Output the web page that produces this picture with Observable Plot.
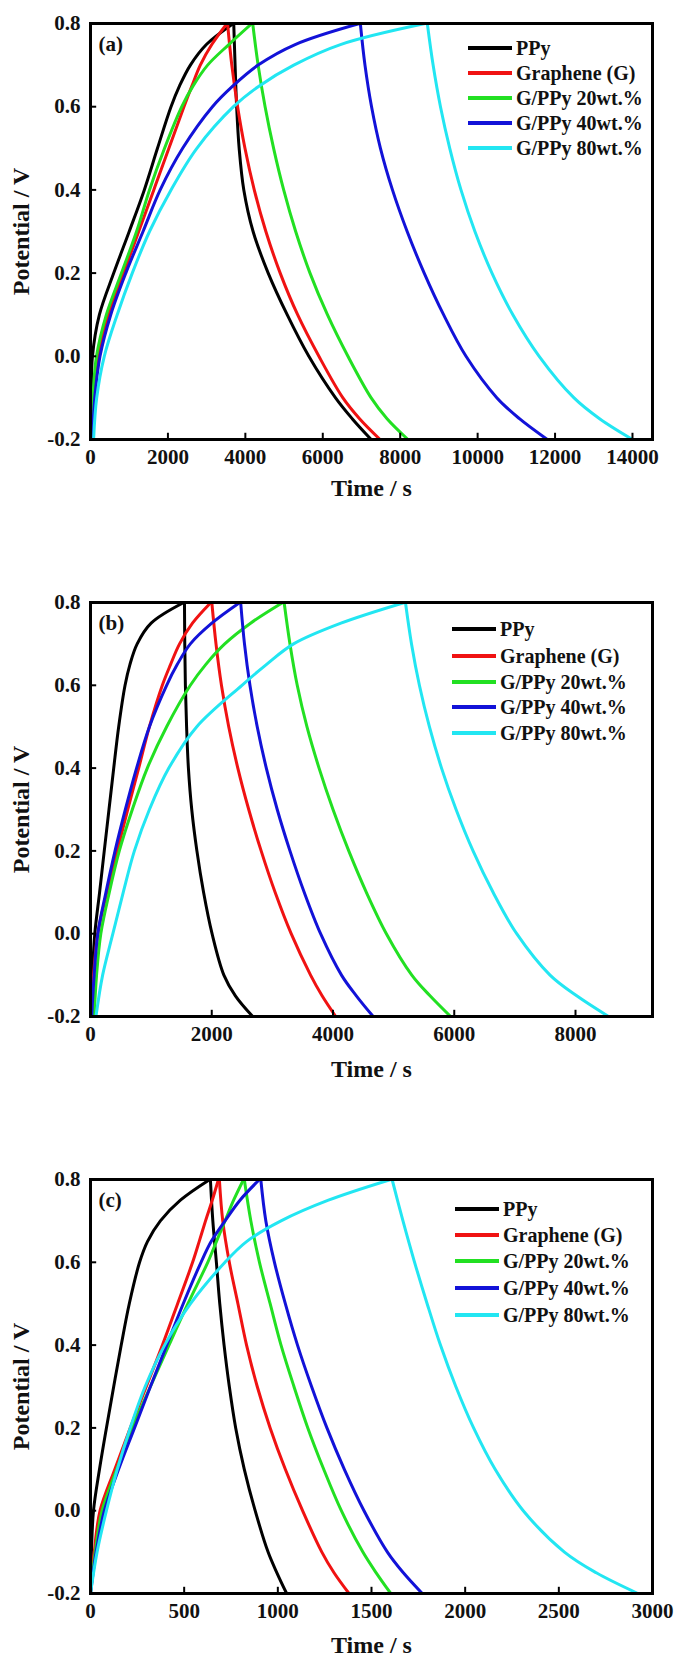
<!DOCTYPE html>
<html><head><meta charset="utf-8">
<script src="https://cdn.jsdelivr.net/npm/d3@7"></script>
<script src="https://cdn.jsdelivr.net/npm/@observablehq/plot@0.6"></script>
<style>
body{margin:0;background:#fff;}
#wrap{position:relative;width:675px;height:1658px;overflow:hidden;}
.panel{position:absolute;left:0;width:675px;}
.legend{position:absolute;left:0;top:0;font-family:"Liberation Serif",serif;font-weight:bold;font-size:20px;color:#111;}
.legend .item{position:absolute;white-space:nowrap;display:flex;align-items:center;height:22px;line-height:22px;}
.legend .sw{display:inline-block;width:44px;height:4px;margin-right:4px;}
</style></head><body><div id="wrap"></div>
<script>
// ---------- data ----------
const seriesNames = ["PPy", "Graphene (G)", "G/PPy 20wt.%", "G/PPy 40wt.%", "G/PPy 80wt.%"];
const seriesColors = ["#000000", "#f01212", "#22e022", "#1212d8", "#22e6f2"];
const yTicks = [-0.2, 0, 0.2, 0.4, 0.6, 0.8];
const chargeLevels = [-0.2, -0.1, 0, 0.1, 0.2, 0.3, 0.4, 0.5, 0.6, 0.65, 0.7, 0.75, 0.8];
const dischargeLevels = [0.8, 0.7, 0.6, 0.5, 0.4, 0.3, 0.2, 0.1, 0, -0.1, -0.15, -0.2];

// panel (a)
const xTicksA = [0, 2000, 4000, 6000, 8000, 10000, 12000, 14000];
const xMaxA = 14517;
const a_PPy_charge = [0, 20, 50, 230, 600, 1000, 1390, 1730, 2080, 2300, 2580, 3000, 3690];
const a_PPy_discharge = [3700, 3735, 3775, 3840, 3960, 4200, 4590, 5080, 5640, 6330, 6760, 7250];
const a_G_charge = [0, 80, 190, 470, 855, 1245, 1635, 2025, 2414, 2620, 2836, 3137, 3526];
const a_G_discharge = [3540, 3650, 3800, 3990, 4230, 4530, 4900, 5350, 5900, 6520, 6950, 7480];
const a_G20_charge = [0, 60, 155, 410, 800, 1190, 1524, 1913, 2358, 2650, 3025, 3580, 4170];
const a_G20_discharge = [4190, 4330, 4510, 4730, 4990, 5300, 5670, 6120, 6650, 7250, 7660, 8200];
const a_G40_charge = [50, 110, 245, 523, 912, 1357, 1800, 2380, 3150, 3680, 4330, 5300, 6950];
const a_G40_discharge = [6970, 7090, 7260, 7490, 7800, 8180, 8620, 9120, 9700, 10500, 11080, 11800];
const a_G80_charge = [80, 160, 356, 690, 1079, 1524, 2080, 2747, 3693, 4360, 5250, 6474, 8643];
const a_G80_discharge = [8700, 8850, 9040, 9280, 9570, 9930, 10370, 10910, 11590, 12490, 13150, 14000];

// panel (b)
const xTicksB = [0, 2000, 4000, 6000, 8000];
const xMaxB = 9270;
const b_PPy_charge = [0, 30, 71, 150, 227, 305, 383, 465, 570, 650, 770, 1000, 1540];
const b_PPy_discharge = [1550, 1555, 1565, 1585, 1615, 1670, 1755, 1865, 2005, 2200, 2390, 2676];
const b_G_charge = [0, 50, 120, 270, 440, 615, 795, 972, 1185, 1320, 1469, 1682, 1987];
const b_G_discharge = [2001, 2070, 2160, 2280, 2430, 2610, 2815, 3045, 3310, 3630, 3820, 4045];
const b_G20_charge = [60, 100, 170, 310, 475, 690, 937, 1256, 1647, 1900, 2214, 2640, 3172];
const b_G20_discharge = [3194, 3290, 3410, 3570, 3770, 4000, 4260, 4550, 4880, 5300, 5600, 5940];
const b_G40_charge = [20, 60, 120, 255, 405, 575, 760, 972, 1256, 1430, 1647, 2001, 2463];
const b_G40_discharge = [2477, 2540, 2630, 2750, 2900, 3080, 3290, 3525, 3795, 4140, 4385, 4663];
const b_G80_charge = [90, 200, 369, 540, 724, 972, 1292, 1753, 2498, 2900, 3350, 4131, 5181];
const b_G80_discharge = [5195, 5295, 5425, 5590, 5790, 6030, 6310, 6640, 7030, 7580, 8020, 8545];

// panel (c)
const xTicksC = [0, 500, 1000, 1500, 2000, 2500, 3000];
const xMaxC = 3000;
const c_PPy_charge = [0, 5, 16, 48, 85, 124, 164, 207, 262, 304, 373, 480, 637];
const c_PPy_discharge = [640, 653, 672, 690, 713, 741, 775, 821, 879, 948, 995, 1047];
const c_G_charge = [0, 20, 51, 130, 212, 298, 384, 465, 545, 580, 614, 650, 683];
const c_G_discharge = [688, 706, 741, 787, 833, 890, 959, 1040, 1132, 1235, 1300, 1380];
const c_G20_charge = [0, 25, 62, 140, 223, 320, 419, 520, 626, 672, 718, 764, 817];
const c_G20_discharge = [821, 856, 902, 959, 1017, 1086, 1160, 1245, 1339, 1454, 1525, 1603];
const c_G40_charge = [0, 30, 74, 150, 235, 320, 407, 495, 590, 644, 718, 798, 902];
const c_G40_discharge = [909, 936, 982, 1040, 1105, 1180, 1262, 1355, 1460, 1585, 1670, 1771];
const c_G80_charge = [0, 35, 85, 143, 212, 292, 396, 534, 718, 833, 1017, 1270, 1603];
const c_G80_discharge = [1610, 1668, 1730, 1797, 1868, 1950, 2045, 2160, 2310, 2530, 2700, 2922];

// ---------- layout ----------
const panels = [
  {label: "(a)", top: 0, height: 520, marginTop: 23, marginBottom: 81, xTicks: xTicksA, xMax: xMaxA,
   charge: [a_PPy_charge, a_G_charge, a_G20_charge, a_G40_charge, a_G80_charge],
   discharge: [a_PPy_discharge, a_G_discharge, a_G20_discharge, a_G40_discharge, a_G80_discharge],
   titleDy: 49, legendX: 468, legendRows: [25, 50, 75, 100, 125]},
  {label: "(b)", top: 520, height: 580, marginTop: 82, marginBottom: 84, xTicks: xTicksB, xMax: xMaxB,
   charge: [b_PPy_charge, b_G_charge, b_G20_charge, b_G40_charge, b_G80_charge],
   discharge: [b_PPy_discharge, b_G_discharge, b_G20_discharge, b_G40_discharge, b_G80_discharge],
   titleDy: 53, legendX: 452, legendRows: [27, 54, 80, 105, 131]},
  {label: "(c)", top: 1100, height: 558, marginTop: 79, marginBottom: 65, xTicks: xTicksC, xMax: xMaxC,
   charge: [c_PPy_charge, c_G_charge, c_G20_charge, c_G40_charge, c_G80_charge],
   discharge: [c_PPy_discharge, c_G_discharge, c_G20_discharge, c_G40_discharge, c_G80_discharge],
   titleDy: 52, legendX: 455, legendRows: [30, 56, 82, 109, 136]}
];

const wrap = document.getElementById("wrap");
for (const p of panels) {
  const rows = [];
  seriesNames.forEach((name, i) => {
    p.charge[i].forEach((t, j) => rows.push({series: name, seg: name + "-c", t, v: chargeLevels[j]}));
    p.discharge[i].forEach((t, j) => rows.push({series: name, seg: name + "-d", t, v: dischargeLevels[j]}));
  });
  const chart = Plot.plot({
    width: 675, height: p.height,
    marginLeft: 90, marginRight: 23, marginTop: p.marginTop, marginBottom: p.marginBottom,
    style: {fontFamily: "'Liberation Serif', serif", fontWeight: "bold", fontSize: "21px", color: "#111", background: "#fff"},
    x: {domain: [0, p.xMax], label: null},
    y: {domain: [-0.2, 0.8], label: null},
    color: {domain: seriesNames, range: seriesColors},
    marks: [
      Plot.line(rows, {x: "t", y: "v", z: "seg", stroke: "series", strokeWidth: 3, curve: "catmull-rom", clip: true}),
      Plot.ruleX(p.xTicks, {y1: -0.2, y2: -0.2 + 0.015, stroke: "#000", strokeWidth: 2}),
      Plot.ruleY(yTicks, {x1: 0, x2: p.xMax * 0.011, stroke: "#000", strokeWidth: 2}),
      Plot.axisX({ticks: p.xTicks, tickSize: 0, tickPadding: 10, tickFormat: d => String(d), fontSize: 21}),
      Plot.axisY({ticks: yTicks, tickSize: 0, tickPadding: 10, tickFormat: d => d.toFixed(1), fontSize: 21}),
      Plot.frame({stroke: "#000", strokeWidth: 3}),
      Plot.text([p.label], {frameAnchor: "top-left", dx: 8, dy: 13, fontSize: 21, fontWeight: "bold", fill: "#111"}),
      Plot.text(["Time / s"], {frameAnchor: "bottom", dy: p.titleDy, lineAnchor: "middle", textAnchor: "middle", fontSize: 24, fontWeight: "bold", fill: "#111"}),
      Plot.text(["Potential / V"], {frameAnchor: "left", dx: -69, rotate: -90, lineAnchor: "middle", textAnchor: "middle", fontSize: 24, fontWeight: "bold", fill: "#111"})
    ]
  });
  const div = document.createElement("div");
  div.className = "panel";
  div.style.top = p.top + "px";
  div.style.height = p.height + "px";
  div.appendChild(chart);
  const leg = document.createElement("div");
  leg.className = "legend";
  seriesNames.forEach((name, i) => {
    const it = document.createElement("div");
    it.className = "item";
    it.style.left = p.legendX + "px";
    it.style.top = (p.marginTop + p.legendRows[i] - 11) + "px";
    const sw = document.createElement("span");
    sw.className = "sw";
    sw.style.background = seriesColors[i];
    it.appendChild(sw);
    it.appendChild(document.createTextNode(name));
    leg.appendChild(it);
  });
  div.appendChild(leg);
  wrap.appendChild(div);
}
</script></body></html>
